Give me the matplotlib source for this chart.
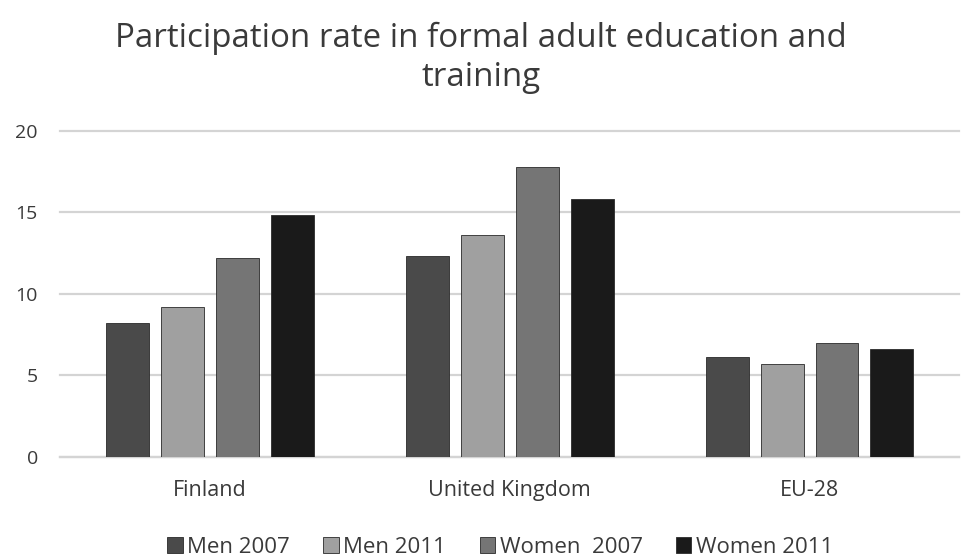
import matplotlib.pyplot as plt
import numpy as np

plt.rcParams['font.family'] = ['Open Sans', 'DejaVu Sans']

categories = ["Finland", "United Kingdom", "EU-28"]
series_names = ["Men 2007", "Men 2011", "Women  2007", "Women 2011"]
men_2007 = [8.2, 12.3, 6.1]
men_2011 = [9.2, 13.6, 5.7]
women_2007 = [12.2, 17.8, 7.0]
women_2011 = [14.8, 15.8, 6.6]
y_ticks = [0, 5, 10, 15, 20]

series = [men_2007, men_2011, women_2007, women_2011]
colors = ["#4a4a4a", "#a0a0a0", "#757575", "#1a1a1a"]
text_color = "#3a3a3a"

fig = plt.figure(figsize=(9.62, 5.56), dpi=100)
ax = fig.add_axes([0.0624, 0.1786, 0.935, 0.5863])

x = np.arange(len(categories))
step = 0.183
width = 0.143
for i, (vals, col, name) in enumerate(zip(series, colors, series_names)):
    ax.bar(x + (i - 1.5) * step, vals, width=width, color=col,
           edgecolor="#2a2a2a", linewidth=0.6, label=name, zorder=3)

ax.set_xlim(-0.5, len(categories) - 0.5)
ax.set_ylim(0, 20)
ax.set_yticks(y_ticks)
ax.set_xticks(x)
ax.set_xticklabels(categories)
ax.grid(axis="y", color="#d4d4d4", linewidth=1.6, zorder=0)
for line in ax.get_ygridlines():
    line.set_clip_on(False)
for s in ["top", "right", "left"]:
    ax.spines[s].set_visible(False)
ax.spines["bottom"].set_color("#d4d4d4")
ax.spines["bottom"].set_linewidth(1.6)
ax.tick_params(axis="y", length=0, pad=16, labelsize=14, labelcolor=text_color)
ax.tick_params(axis="x", length=0, pad=17, labelsize=15.5, labelcolor=text_color)

fig.text(0.5, 0.896, "Participation rate in formal adult education and\ntraining",
         ha="center", va="center", fontsize=23.8, color=text_color, linespacing=1.22)

fig.legend(loc="center", bbox_to_anchor=(0.52, 0.016), ncol=4, frameon=False,
           fontsize=16, handlelength=0.7, handleheight=0.7, handletextpad=0.2,
           columnspacing=1.5, labelcolor=text_color, borderpad=0)

fig.savefig("out.png", dpi=100)
